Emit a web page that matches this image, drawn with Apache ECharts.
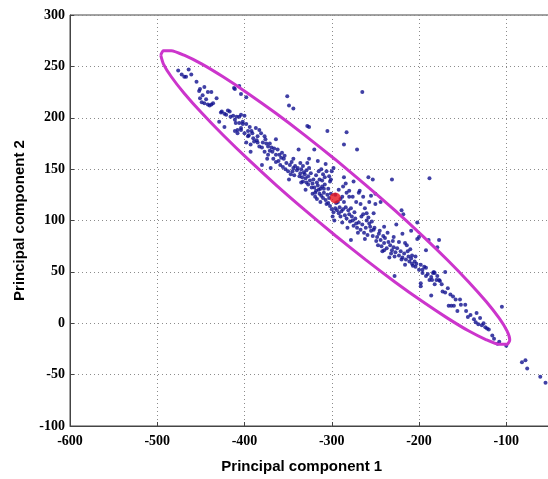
<!DOCTYPE html>
<html>
<head>
<meta charset="utf-8">
<title>PCA scatter</title>
<script src="https://cdn.jsdelivr.net/npm/echarts/dist/echarts.min.js"></script>
<style>
  html, body { margin: 0; padding: 0; background: #fff; overflow: hidden; }
  /* the original figure is cut on the right, so the chart is wider than the window */
  #main-chart { width: 600px; height: 479px; }
</style>
</head>
<body>
<div id="main-chart"></div>
<script>
// scores on the first two principal components
const pcPoints = [
  [-476,246],[-472,242],[-469,240],[-467,240],[-464,247],[-461,242],[-455,235],[-451,228],[-446,230],[-448,222],
  [-451,219],[-449,215],[-446,214],[-442,213],[-442,225],[-452,226],
  [-438,213],[-438,225],[-432,219],[-427,205],[-421,203],[-419,207],[-417,206],[-429,196],[-416,201],[-423,191],
  [-412,229],[-406,231],[-411,228],[-404,223],[-398,220],[-410,195],[-406,195],[-402,196],[-398,194],[-411,187],
  [-408,185],[-404,188],[-400,185],[-396,182],[-413,202],[-409,201],[-411,198],[-406,201],[-404,203],[-400,202],
  [-402,194],[-404,190],[-408,188],[-394,191],[-396,187],[-392,187],[-426,206],[-423,204],[-444,218],[-436,214],
  [-440,212],
  [-387,190],[-383,188],[-381,185],[-385,182],[-390,180],[-389,177],[-377,182],[-375,175],[-373,172],[-371,175],
  [-383,172],[-364,179],[-368,167],[-364,164],[-362,169],[-377,167],[-373,164],[-393,174],[-380,154],[-370,151],
  [-366,170],[-360,164],[-358,161],[-364,157],[-356,152],[-352,156],[-348,154],[-344,151],[-351,221],[-349,212],
  [-344,209],[-395,183],[-391,185],[-386,178],[-379,176],[-376,179],[-371,168],[-369,171],[-367,160],[-361,158],
  [-357,166],[-355,160],[-353,150],[-350,148],[-346,157],[-398,176],[-393,167],[-385,176],[-380,171],[-374,160],
  [-359,154],[-354,163],
  [-338,169],[-340,149],[-336,146],[-334,142],[-332,147],[-330,141],[-328,156],[-326,151],[-328,192],[-322,136],
  [-320,132],[-318,129],[-316,134],[-320,169],[-314,126],[-312,124],[-310,122],[-316,158],[-310,145],[-308,142],
  [-306,148],[-305,187],[-301,140],[-300,148],[-298,151],[-304,117],[-302,114],[-326,191],[-345,148],[-342,153],
  [-343,144],[-339,151],[-337,143],[-335,150],[-333,138],[-331,145],[-329,137],[-327,143],[-325,139],[-323,132],
  [-321,140],[-319,127],[-317,137],[-315,130],[-313,131],[-311,133],[-309,127],[-307,120],[-305,125],[-303,122],
  [-301,126],[-336,156],[-333,153],[-329,149],[-324,146],[-318,144],[-314,140],[-312,150],[-308,135],[-304,131],
  [-302,138],[-335,137],[-330,130],[-322,126],[-317,121],[-313,118],[-306,116],[-300,111],[-347,145],[-344,160],
  [-327,135],[-319,123],[-309,131],[-311,139],[-303,143],[-326,160],[-315,148],[-307,155],[-349,140],
  [-295,117],[-294,110],[-292,107],[-290,104],[-286,174],[-283,186],[-286,142],[-284,136],[-288,123],[-284,113],
  [-280,106],[-276,100],[-272,97],[-271,169],[-280,123],[-276,123],[-268,129],[-264,123],[-265,225],[-264,106],
  [-260,100],[-256,94],[-252,91],[-258,142],[-253,140],[-250,116],[-280,129],[-269,127],[-255,124],[-250,126],
  [-257,118],[-267,116],[-278,81],[-296,112],[-293,118],[-291,113],[-289,109],[-287,111],[-285,105],[-283,102],
  [-281,110],[-279,99],[-277,104],[-275,95],[-273,102],[-271,93],[-269,98],[-267,91],[-265,96],[-263,88],
  [-261,93],[-259,86],[-257,97],[-255,90],[-253,85],[-251,93],[-298,108],[-296,125],[-292,130],[-288,98],
  [-286,118],[-282,93],[-278,112],[-274,108],[-270,88],[-266,104],[-262,112],[-258,103],[-254,99],[-299,104],
  [-297,100],[-290,121],[-287,133],[-283,127],[-275,138],[-272,118],[-262,82],[-260,107],[-252,107],
  [-246,87],[-248,84],[-244,81],[-240,78],[-240,94],[-231,140],[-229,84],[-240,71],[-232,68],[-228,65],
  [-220,62],[-228,46],[-220,110],[-218,106],[-216,78],[-212,65],[-208,58],[-204,55],[-200,52],[-208,66],
  [-200,84],[-202,98],[-244,118],[-209,90],[-202,82],[-219,87],[-223,79],[-204,65],[-249,80],[-247,76],
  [-245,90],[-243,75],[-241,85],[-239,83],[-237,73],[-235,79],[-233,76],[-231,71],[-229,74],[-227,69],
  [-225,73],[-223,66],[-221,70],[-219,64],[-217,68],[-215,62],[-213,70],[-211,60],[-209,63],[-207,56],
  [-205,60],[-203,58],[-236,88],[-226,96],[-214,76],[-234,64],[-242,70],[-216,57],[-230,80],[-210,72],
  [-188,141],[-196,49],[-192,46],[-188,42],[-194,55],[-198,39],[-192,71],[-184,49],[-180,42],[-176,41],
  [-182,49],[-186,27],[-177,81],[-170,30],[-189,81],[-192,54],[-179,74],[-198,57],[-183,50],[-179,46],
  [-177,42],[-185,42],[-198,36],[-173,31],[-170,50],[-161,26],[-158,23],[-153,23],[-160,17],[-156,12],
  [-152,18],[-196,52],[-190,48],[-186,45],[-174,38],[-167,34],[-164,28],[-182,38],[-166,17],[-163,17],
  [-146,12],[-144,6],[-134,10],[-137,4],[-135,1],[-130,5],[-128,-2],[-124,-4],[-120,-6],[-116,-12],
  [-110,-20],[-100,-22],[-105,16],[-147,18],[-141,8],[-132,-1],[-126,0],[-122,-5],[-114,-15],[-108,-18],
  [-82,-38],[-78,-36],[-76,-44],[-61,-52],[-55,-58]
]
// mean of the scores
const meanPoint = [[-296, 122]]
// confidence ellipse outline
const ellipsePoints = [
  [-496,261.0],[-493,265.3],[-483.9,265.3],[-469.2,260.9],[-449.2,252.4],[-424.6,239.8],[-396,223.7],[-364.4,204.6],
  [-330.7,182.9],[-296,159.4],[-261.3,134.7],[-227.6,109.8],[-196,85.1],[-167.4,61.6],[-142.8,40],[-122.8,20.9],
  [-108.1,4.9],[-99,-7.7],[-96,-16.2],[-99,-20.5],[-108.1,-20.5],[-122.8,-16.1],[-142.8,-7.6],[-167.4,5],
  [-196,21.1],[-227.6,40.2],[-261.3,61.9],[-296,85.4],[-330.7,110.1],[-364.4,135],[-396,159.7],[-424.6,183.2],
  [-449.2,204.8],[-469.2,223.9],[-483.9,239.9],[-493,252.5],[-496,261.0]
]
const xTicks = { min: -600, max: 0, step: 100 }
const yTicks = { min: -100, max: 300, step: 50 }

const tickFont = {
  color: '#000',
  fontFamily: 'Liberation Serif',
  fontWeight: 'bold',
  fontSize: 14
}
const nameFont = {
  color: '#000',
  fontFamily: 'Liberation Sans',
  fontWeight: 'bold',
  fontSize: 15
}
const gridLine = {
  show: true,
  lineStyle: { color: '#8c8c8c', type: [1, 3], width: 1 }
}

const drawChart = () => {
  let domID = 'main-chart'
  let myChart = echarts.init(document.getElementById(domID), null, { renderer: 'canvas' })
  let option = {
    backgroundColor: '#fff',
    animation: false,
    grid: {
      show: true,
      left: 70,
      top: 15,
      right: 5,
      bottom: 47,
      borderColor: '#444',
      borderWidth: 1,
      backgroundColor: '#fff'
    },
    xAxis: {
      type: 'value',
      min: xTicks.min,
      max: xTicks.max,
      interval: xTicks.step,
      name: 'Principal component 1',
      nameLocation: 'middle',
      nameGap: 33,
      nameTextStyle: Object.assign({ padding: [0, 60, 0, 0] }, nameFont),
      axisLine: { onZero: false, lineStyle: { color: '#444' } },
      axisTick: { inside: true, length: 4, lineStyle: { color: '#444' } },
      axisLabel: Object.assign({ margin: 8 }, tickFont),
      splitLine: gridLine
    },
    yAxis: {
      type: 'value',
      min: yTicks.min,
      max: yTicks.max,
      interval: yTicks.step,
      name: 'Principal component 2',
      nameLocation: 'middle',
      nameGap: 43,
      nameTextStyle: nameFont,
      axisLine: { onZero: false, lineStyle: { color: '#444' } },
      axisTick: { inside: true, length: 4, lineStyle: { color: '#444' } },
      axisLabel: Object.assign({ margin: 5 }, tickFont),
      splitLine: gridLine
    },
    series: [
      {
        type: 'scatter',
        data: pcPoints,
        symbol: 'circle',
        symbolSize: 4,
        itemStyle: { color: '#10108f' },
        z: 2
      },
      {
        type: 'line',
        data: ellipsePoints,
        showSymbol: false,
        smooth: 0.2,
        lineStyle: { color: '#cc35cc', width: 3 },
        z: 3
      },
      {
        type: 'scatter',
        data: meanPoint,
        symbol: 'circle',
        symbolSize: 11,
        itemStyle: { color: '#e8131b' },
        z: 4
      }
    ]
  }
  myChart.setOption(option)
}

drawChart()
</script>
</body>
</html>
